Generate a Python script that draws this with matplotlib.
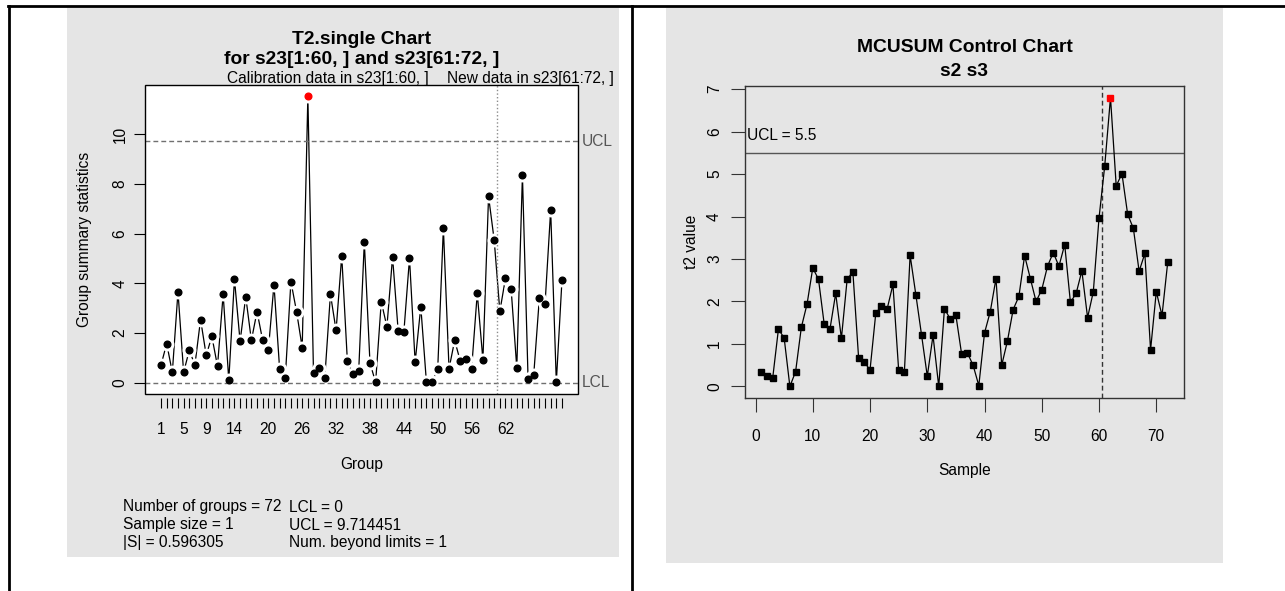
import matplotlib
matplotlib.use("Agg")
import matplotlib.pyplot as plt
import numpy as np
from matplotlib.lines import Line2D
from matplotlib.patches import Rectangle

plt.rcParams['font.family'] = ['Liberation Sans', 'DejaVu Sans']

W, H = 1285, 591
DPI = 100

# T2.single chart (left panel)
groups = np.arange(1, 73)
t2_stat = [0.71, 1.57, 0.41, 3.66, 0.41, 1.30, 0.71, 2.54, 1.10, 1.86,
           0.66, 3.56, 0.09, 4.17, 1.66, 3.46, 1.70, 2.86, 1.70, 1.30,
           3.95, 0.55, 0.19, 4.07, 2.86, 1.41, 11.53, 0.37, 0.59, 0.19,
           3.56, 2.10, 5.11, 0.86, 0.35, 0.45, 5.66, 0.79, 0.01, 3.26,
           2.25, 5.06, 2.07, 2.03, 5.01, 0.82, 3.06, 0.01, 0.01, 0.56,
           6.23, 0.56, 1.70, 0.86, 0.94, 0.56, 3.60, 0.91, 7.50, 5.74,
           2.87, 4.21, 3.76, 0.59, 8.36, 0.13, 0.31, 3.42, 3.15, 6.95,
           0.01, 4.12]
t2_ucl = 9.714451
t2_lcl = 0.0
n_calib = 60
group_ticks = [1, 5, 9, 14, 20, 26, 32, 38, 44, 50, 56, 62]
stats_left = ["Number of groups = 72", "Sample size = 1", "|S| = 0.596305"]
stats_right = ["LCL = 0", "UCL = 9.714451", "Num. beyond limits = 1"]

# MCUSUM chart (right panel)
samples = np.arange(1, 73)
mcusum_t2 = [0.34, 0.24, 0.20, 1.35, 1.14, 0.00, 0.35, 1.39, 1.94, 2.79,
             2.52, 1.46, 1.35, 2.19, 1.13, 2.52, 2.70, 0.68, 0.57, 0.39,
             1.72, 1.90, 1.83, 2.40, 0.38, 0.34, 3.09, 2.16, 1.21, 0.24,
             1.20, 0.00, 1.83, 1.59, 1.67, 0.76, 0.79, 0.50, 0.02, 1.26,
             1.76, 2.54, 0.50, 1.07, 1.81, 2.12, 3.08, 2.54, 2.00, 2.28,
             2.83, 3.15, 2.83, 3.34, 1.98, 2.19, 2.72, 1.62, 2.23, 3.97,
             5.20, 6.80, 4.72, 5.01, 4.05, 3.72, 2.71, 3.13, 0.86, 2.23,
             1.67, 2.93]
mcusum_ucl = 5.5

PANEL = '#e5e5e5'
FS = 11.2
FS_TITLE = 13.9


def fx(x):
    return x / W


def fy(y):
    return 1 - y / H


def r_range(vals):
    # R's default 4% axis extension
    lo, hi = min(vals), max(vals)
    d = 0.04 * (hi - lo)
    return lo - d, hi + d


fig = plt.figure(figsize=(W / DPI, H / DPI), dpi=DPI)
fig.patch.set_facecolor('white')

# grey panels
fig.add_artist(Rectangle((fx(67), fy(557)), (619 - 67) / W, (557 - 8) / H,
                         transform=fig.transFigure, color=PANEL, lw=0, zorder=-10))
fig.add_artist(Rectangle((fx(666), fy(563)), (1223 - 666) / W, (563 - 8) / H,
                         transform=fig.transFigure, color=PANEL, lw=0, zorder=-10))

# page rules
for xs, ys in [((8, W), (6, 6)), ((8.5, 8.5), (6, H)), ((632, 632), (6, H))]:
    fig.add_artist(Line2D([fx(x) for x in xs], [fy(y) for y in ys],
                          transform=fig.transFigure, color='black', lw=2, zorder=10))

# ---------- left: T2.single chart ----------
ax1 = fig.add_axes([fx(145), fy(394), (578 - 145) / W, (394 - 85) / H])
ax1.set_facecolor('white')
t2 = np.array(t2_stat)
ax1.set_xlim(r_range(groups))
ax1.set_ylim(r_range(list(t2) + [t2_lcl, t2_ucl]))

ax1.plot(groups, t2, color='black', lw=0.9, zorder=2)
# white discs give the type="b" gaps around points
ax1.plot(groups, t2, 'o', ms=10, mfc='white', mec='none', zorder=3)
out = (t2 > t2_ucl) | (t2 < t2_lcl)
ax1.plot(groups[~out], t2[~out], 'o', ms=4.8, color='black', zorder=6)
ax1.plot(groups[out], t2[out], 'o', ms=4.8, color='red', zorder=6)

for lim, lab in ((t2_ucl, 'UCL'), (t2_lcl, 'LCL')):
    ax1.axhline(lim, color='#707070', lw=1, ls=(0, (3.5, 2.2)), zorder=5)
    ax1.text(1.008, lim, lab, transform=ax1.get_yaxis_transform(),
             ha='left', va='center', fontsize=FS, color='#555555')
ax1.axvline(n_calib + 0.5, color='#8c8c8c', lw=1, ls=(0, (1, 1.6)), zorder=5)

ax1.set_xticks(groups)
ax1.set_xticklabels([str(g) if g in group_ticks else '' for g in groups])
ax1.set_yticks(np.arange(0, 11, 2))
ax1.tick_params(axis='x', length=7, width=0.8, pad=10, labelsize=FS)
ax1.tick_params(axis='y', length=8, width=0.8, pad=4.5, labelsize=FS,
                labelrotation=90)
for lab in ax1.get_yticklabels():
    lab.set_va('center')
for sp in ax1.spines.values():
    sp.set_color('none')
ax1.spines['bottom'].set_position(('outward', 3))
ax1.add_patch(Rectangle((0, 0), 1, 1, transform=ax1.transAxes, fill=False,
                        lw=1, ec='black', clip_on=False, zorder=7))

calib_mid = np.mean(groups[:n_calib])
new_mid = np.mean(groups[n_calib:])
ax1.text(calib_mid, 1.006, 'Calibration data in s23[1:60, ]',
         transform=ax1.get_xaxis_transform(), ha='center', va='baseline', fontsize=FS)
ax1.text(new_mid, 1.006, 'New data in s23[61:72, ]',
         transform=ax1.get_xaxis_transform(), ha='center', va='baseline', fontsize=FS)

fig.text(fx(361.5), fy(39), 'T2.single Chart', ha='center', va='center',
         fontsize=FS_TITLE, fontweight='bold')
fig.text(fx(361.5), fy(59), 'for s23[1:60, ] and s23[61:72, ]', ha='center',
         va='center', fontsize=FS_TITLE, fontweight='bold')
fig.text(fx(361.5), fy(465), 'Group', ha='center', va='center', fontsize=FS)
fig.text(fx(85), fy(239.5), 'Group summary statistics', ha='center', va='center',
         rotation=90, fontsize=FS)

for i, (a, b) in enumerate(zip(stats_left, stats_right)):
    y = 507 + i * 18
    fig.text(fx(123), fy(y), a, ha='left', va='center', fontsize=FS)
    fig.text(fx(289), fy(y), b, ha='left', va='center', fontsize=FS)

# ---------- right: MCUSUM chart ----------
ax2 = fig.add_axes([fx(745), fy(398), (1184 - 745) / W, (398 - 86) / H])
ax2.set_facecolor('none')
mc = np.array(mcusum_t2)
ax2.set_xlim(r_range(samples))
ax2.set_ylim(r_range(list(mc) + [0]))

ax2.axhline(mcusum_ucl, color='#555555', lw=1, zorder=2)
ax2.axvline(n_calib + 0.5, color='#333333', lw=1, ls=(0, (3.5, 2.2)), zorder=2)
ax2.plot(samples, mc, color='black', lw=0.9, zorder=3)
above = mc > mcusum_ucl
ax2.plot(samples[~above], mc[~above], 's', ms=4.2, color='black', zorder=4)
ax2.plot(samples[above], mc[above], 's', ms=4.2, color='red', zorder=4)
ax2.text(-1.5, 5.91, 'UCL = 5.5', ha='left', va='center', fontsize=FS)

ax2.set_xticks(np.arange(0, 71, 10))
ax2.set_yticks(np.arange(0, 8))
ax2.tick_params(axis='x', length=10, width=0.8, pad=12, labelsize=FS, color='#333333')
ax2.tick_params(axis='y', length=10, width=0.8, pad=6.5, labelsize=FS,
                color='#333333', labelrotation=90)
for lab in ax2.get_yticklabels():
    lab.set_va('center')
for sp in ax2.spines.values():
    sp.set_color('#333333')
    sp.set_linewidth(1)

fig.text(fx(964.5), fy(48), 'MCUSUM Control Chart', ha='center', va='center',
         fontsize=FS_TITLE, fontweight='bold')
fig.text(fx(964.5), fy(71), 's2 s3', ha='center', va='center',
         fontsize=FS_TITLE, fontweight='bold')
fig.text(fx(964.5), fy(470), 'Sample', ha='center', va='center', fontsize=FS)
fig.text(fx(692), fy(242), 't2 value', ha='center', va='center', rotation=90,
         fontsize=FS)

fig.savefig('out.png', dpi=DPI)
